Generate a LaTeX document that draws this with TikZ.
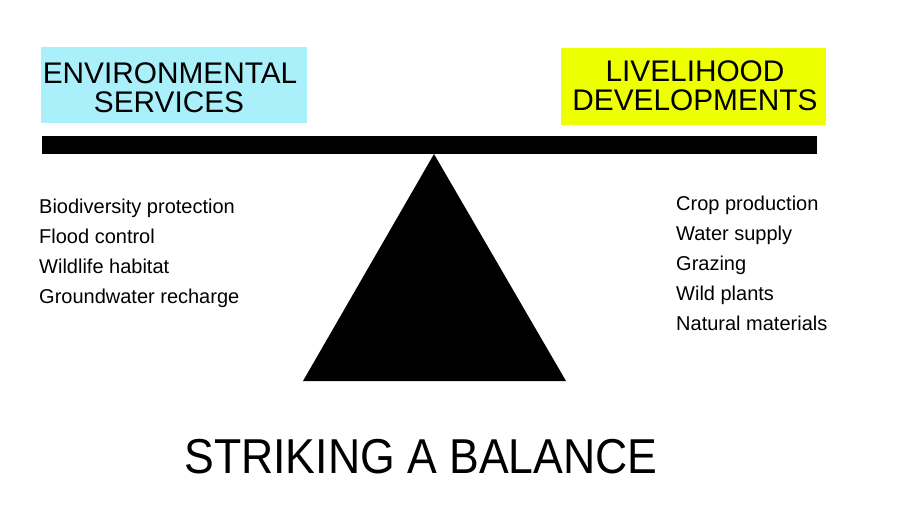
\documentclass[tikz,border=0pt]{standalone}
\usepackage{fontspec}
\setmainfont{Liberation Sans}
\definecolor{envcyan}{RGB}{170,240,250}
\definecolor{livyellow}{RGB}{238,255,0}
\begin{document}
\begin{tikzpicture}[x=1pt,y=-1pt,
  boxtext/.style={font=\fontsize{29.8}{29.8}\selectfont, anchor=base, inner sep=0pt},
  listtext/.style={font=\fontsize{20}{20}\selectfont, anchor=base west, inner sep=0pt},
  headbox/.style={inner sep=0pt, draw=none}]
\useasboundingbox[fill=white] (0,0) rectangle (910,512);
% header boxes
\node[headbox, fill=envcyan, minimum width=266pt, minimum height=76pt] (envbox) at (174,85) {};
\node[boxtext] (env1) at (170,83) {ENVIRONMENTAL};
\node[boxtext] (env2) at (169,112) {SERVICES};
\node[headbox, fill=livyellow, minimum width=265pt, minimum height=77pt] (livbox) at (693.5,86.5) {};
\node[boxtext] (liv1) at (695,81) {LIVELIHOOD};
\node[boxtext] (liv2) at (695,110) {DEVELOPMENTS};
% beam
\node[headbox, fill=black, minimum width=775pt, minimum height=18pt] (beam) at (429.5,145) {};
% fulcrum
\fill[black] (434,154) -- (566,381) -- (303,381) -- cycle;
% left list
\node[listtext] (l1) at (39,213) {Biodiversity protection};
\node[listtext] (l2) at (39,243) {Flood control};
\node[listtext] (l3) at (39,273) {Wildlife habitat};
\node[listtext] (l4) at (39,303) {Groundwater recharge};
% right list
\node[listtext] (r1) at (676,210) {Crop production};
\node[listtext] (r2) at (676,240) {Water supply};
\node[listtext] (r3) at (676,270) {Grazing};
\node[listtext] (r4) at (676,300) {Wild plants};
\node[listtext] (r5) at (676,330) {Natural materials};
% title
\node[anchor=base, inner sep=0pt, font=\fontsize{49}{49}\selectfont] (title) at (421,473) {\scalebox{0.91}[1]{STRIKING A BALANCE}};
\end{tikzpicture}
\end{document}
